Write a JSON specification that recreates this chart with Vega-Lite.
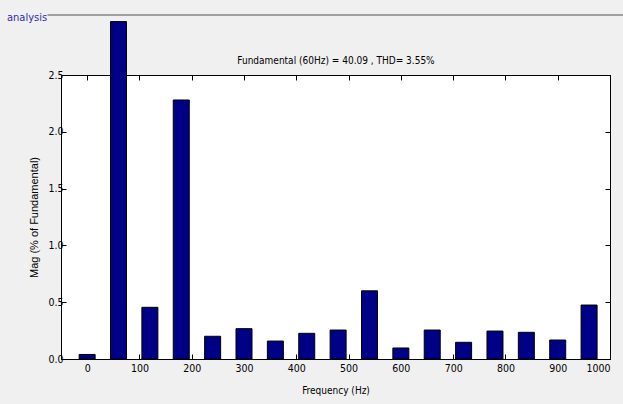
{
  "$schema": "https://vega.github.io/schema/vega-lite/v6.json",
  "autosize": {"type": "none"},
  "width": 549,
  "height": 284,
  "padding": {"left": 61, "top": 75, "right": 13, "bottom": 45},
  "background": "#f0f0f0",
  "title": {
    "text": "analysis",
    "anchor": "start",
    "frame": "group",
    "dx": -54,
    "dy": 13,
    "color": "#2b2bb8",
    "fontSize": 11,
    "fontWeight": "normal",
    "font": "'DejaVu Sans Condensed', sans-serif",
    "offset": 4
  },
  "data": {
    "values": [
      {"f": 0, "mag": 0.04},
      {"f": 60, "mag": 2.97},
      {"f": 120, "mag": 0.455},
      {"f": 180, "mag": 2.28},
      {"f": 240, "mag": 0.2},
      {"f": 300, "mag": 0.267},
      {"f": 360, "mag": 0.158},
      {"f": 420, "mag": 0.226},
      {"f": 480, "mag": 0.255},
      {"f": 540, "mag": 0.6},
      {"f": 600, "mag": 0.097},
      {"f": 660, "mag": 0.255},
      {"f": 720, "mag": 0.147},
      {"f": 780, "mag": 0.246},
      {"f": 840, "mag": 0.235},
      {"f": 900, "mag": 0.167},
      {"f": 960, "mag": 0.475}
    ]
  },
  "layer": [
    {
      "mark": {"type": "rule", "color": "#a0a0a0", "strokeWidth": 1, "clip": false},
      "encoding": {
        "x": {"datum": -75, "type": "quantitative", "scale": {"domain": [-50, 1000], "nice": false, "zero": false, "padding": 0}, "axis": null},
        "x2": {"datum": 1030},
        "y": {"datum": 3.03, "type": "quantitative", "scale": {"domain": [0, 2.5], "nice": false, "padding": 0}, "axis": null}
      }
    },
    {
      "mark": {"type": "bar", "size": 16, "color": "#000086", "stroke": "black", "strokeWidth": 1, "clip": false},
      "encoding": {
        "x": {
          "field": "f", "type": "quantitative",
          "scale": {"domain": [-50, 1000], "nice": false, "zero": false, "padding": 0},
          "axis": {"orient": "bottom", "values": [0,100,200,300,400,500,600,700,800,900,1000], "format": "d", "tickSize": -5, "labelPadding": 9, "title": "Frequency (Hz)", "titlePadding": 12}
        },
        "y": {
          "field": "mag", "type": "quantitative",
          "scale": {"domain": [0, 2.5], "nice": false, "padding": 0},
          "axis": {"orient": "left", "values": [0, 0.5, 1, 1.5, 2, 2.5], "tickSize": -5, "labelPadding": 3, "title": "Mag (% of Fundamental)", "titlePadding": 8, "titleFont": "'Liberation Sans', Arial, sans-serif", "titleFontSize": 11}
        }
      }
    },
    {
      "mark": {"type": "point", "opacity": 0},
      "encoding": {
        "x": {
          "field": "f", "type": "quantitative",
          "scale": {"domain": [-50, 1000], "nice": false, "zero": false, "padding": 0},
          "axis": {"orient": "top", "values": [0,100,200,300,400,500,600,700,800,900,1000], "tickSize": -5, "labels": false, "title": "Fundamental (60Hz) = 40.09 , THD= 3.55%", "titlePadding": 9}
        },
        "y": {
          "field": "mag", "type": "quantitative",
          "scale": {"domain": [0, 2.5], "nice": false, "padding": 0},
          "axis": {"orient": "right", "values": [0, 0.5, 1, 1.5, 2, 2.5], "tickSize": -5, "labels": false, "title": null}
        }
      }
    }
  ],
  "resolve": {"axis": {"x": "independent", "y": "independent"}},
  "config": {
    "view": {"fill": "white", "stroke": "black", "strokeWidth": 1},
    "axis": {
      "grid": false,
      "domainColor": "black",
      "tickColor": "black",
      "labelColor": "black",
      "titleColor": "black",
      "labelFont": "'DejaVu Sans Condensed', sans-serif",
      "titleFont": "'DejaVu Sans Condensed', sans-serif",
      "labelFontSize": 10.5,
      "titleFontSize": 10,
      "titleFontWeight": "normal"
    }
  }
}
